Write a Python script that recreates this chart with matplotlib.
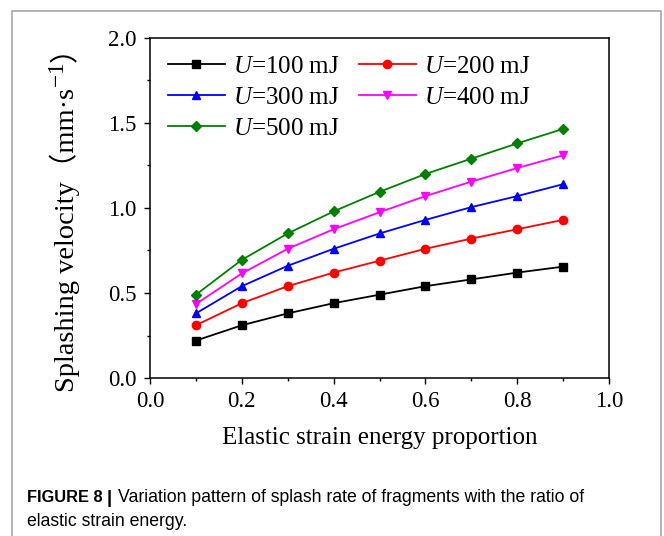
import matplotlib
matplotlib.use("Agg")
import matplotlib.pyplot as plt
from matplotlib.patches import Rectangle

plt.rcParams['font.family'] = ['Liberation Serif', 'Noto Sans CJK SC', 'DejaVu Serif']
plt.rcParams['mathtext.fontset'] = 'custom'
plt.rcParams['mathtext.rm'] = 'Liberation Serif'
plt.rcParams['mathtext.it'] = 'Liberation Serif:italic'

# data
ratio = [0.1, 0.2, 0.3, 0.4, 0.5, 0.6, 0.7, 0.8, 0.9]
v_100 = [0.22, 0.31, 0.38, 0.44, 0.49, 0.54, 0.58, 0.62, 0.655]
v_200 = [0.31, 0.44, 0.54, 0.62, 0.69, 0.76, 0.82, 0.875, 0.93]
v_300 = [0.38, 0.54, 0.66, 0.76, 0.85, 0.93, 1.005, 1.07, 1.14]
v_400 = [0.435, 0.615, 0.76, 0.875, 0.975, 1.07, 1.155, 1.235, 1.31]
v_500 = [0.49, 0.695, 0.85, 0.98, 1.095, 1.20, 1.29, 1.38, 1.465]

series = [
    (v_100, 'k', 's', '100'),
    (v_200, 'red', 'o', '200'),
    (v_300, 'blue', '^', '300'),
    (v_400, 'magenta', 'v', '400'),
    (v_500, '#008000', 'D', '500'),
]

W, H = 664, 536
fig = plt.figure(figsize=(W / 100, H / 100), dpi=100)

# light grey frame round the figure panel
fig.patches.append(Rectangle((12 / W, -0.05), 649 / W, 1 - 11 / H + 0.05,
                             transform=fig.transFigure, fill=False,
                             edgecolor='#a8a8a8', linewidth=1.2))

ax = fig.add_axes([150 / W, 1 - 378 / H, 459 / W, 340 / H])

lines = []
for vals, col, mk, u in series:
    ms = 5.2 if mk == 'D' else 6
    ln, = ax.plot(ratio, vals, color=col, marker=mk, markersize=ms, linewidth=1.3,
                  label=r'$U$=' + u + ' mJ')
    lines.append(ln)

ax.set_xlim(0, 1.0)
ax.set_ylim(0, 2.0)
ax.set_xticks([0.0, 0.2, 0.4, 0.6, 0.8, 1.0])
ax.set_xticks([0.1, 0.3, 0.5, 0.7, 0.9], minor=True)
ax.set_yticks([0.0, 0.5, 1.0, 1.5, 2.0])
ax.set_yticks([0.25, 0.75, 1.25, 1.75], minor=True)
ax.tick_params(which='both', direction='out', top=False, right=False,
               labelsize=16.5, width=1.0, pad=5)
ax.tick_params(which='major', length=4.5)
ax.tick_params(which='minor', length=2.5)
for s in ax.spines.values():
    s.set_linewidth(1.1)

ax.set_xlabel('Elastic strain energy proportion', fontsize=18, labelpad=11)

# legend filled row by row like the original
order = [0, 2, 4, 1, 3]
ax.legend([lines[i] for i in order], [lines[i].get_label() for i in order],
          loc='upper left', ncol=2, frameon=False, fontsize=18,
          handlelength=2.3, handletextpad=0.32, columnspacing=0.76,
          labelspacing=0.34, borderaxespad=0.3, bbox_to_anchor=(0.0, 1.0))

# y label built from pieces so the superscript and full-width brackets both show
fig.canvas.draw()
rend = fig.canvas.get_renderer()
ypos = (H - 392) / H
for piece, fs in [('Splashing velocity（mm·s', 20.5), (r'$^{-1}$', 24), ('）', 20.5)]:
    t = fig.text(74 / W, ypos, piece, rotation=90, rotation_mode='anchor',
                 ha='left', va='baseline', fontsize=fs)
    bb = t.get_window_extent(rend)
    ypos = bb.y1 / H

cap_fs = 12.7
fig.text(27 / W, 1 - 502 / H, 'FIGURE 8', fontsize=11.8, fontweight='bold',
         family='Liberation Sans', va='baseline')
fig.text(107 / W, 1 - 503 / H, '|', fontsize=13.5, fontweight='bold',
         family='Liberation Sans', va='baseline')
fig.text(118 / W, 1 - 502 / H,
         'Variation pattern of splash rate of fragments with the ratio of',
         fontsize=cap_fs, family='Liberation Sans', va='baseline')
fig.text(27 / W, 1 - 526 / H, 'elastic strain energy.', fontsize=cap_fs,
         family='Liberation Sans', va='baseline')

fig.savefig('out.png', dpi=100)
